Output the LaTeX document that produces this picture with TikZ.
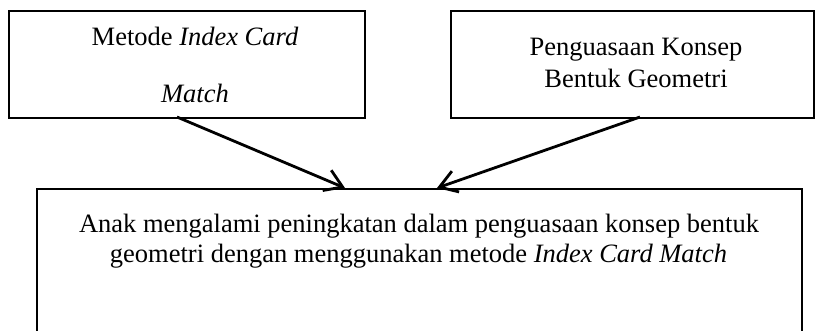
\documentclass[tikz,border=0pt]{standalone}
\usepackage{fontspec}
\setmainfont{Liberation Serif}
\usetikzlibrary{arrows.meta}
\begin{document}
\begin{tikzpicture}[x=1pt,y=-1pt,
  frame/.style={draw=black,line width=1.5pt,inner sep=0pt},
  label/.style={inner sep=0pt,anchor=base,font=\fontsize{26.5}{30}\selectfont},
  link/.style={draw=black,line width=2.8pt,
    -{Straight Barb[length=17pt,width=22pt,line width=2.8pt]}}]
\useasboundingbox (0,0) rectangle (815,330);
\clip (0,0) rectangle (815,330);

% frames
\node[frame,minimum width=356pt,minimum height=107pt,anchor=north west] (method) at (8,10) {};
\node[frame,minimum width=363pt,minimum height=107pt,anchor=north west] (concept) at (450,10) {};
\node[frame,minimum width=765pt,minimum height=200pt,anchor=north west] (result) at (36,188) {};

% texts
\node[label] (m1) at (195,45) {Metode \textit{Index Card}};
\node[label] (m2) at (195,102) {\textit{Match}};
\node[label] (c1) at (636,55) {Penguasaan Konsep};
\node[label] (c2) at (636,87) {Bentuk Geometri};
\node[label] (r1) at (419,232) {Anak mengalami peningkatan dalam penguasaan konsep bentuk};
\node[label] (r2) at (418.5,262) {geometri dengan menggunakan metode \textit{Index Card Match}};

% connector end points on the frames
\coordinate (ms) at (177,117);
\coordinate (cs) at (640,117);
\coordinate (rl) at (345,188);
\coordinate (rr) at (437,188);

\draw[link] (ms) -- (rl);
\draw[link] (cs) -- (rr);
\end{tikzpicture}
\end{document}
